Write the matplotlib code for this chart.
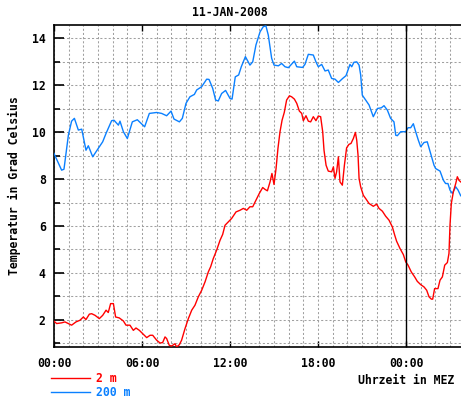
import matplotlib
matplotlib.use("Agg")
import matplotlib.pyplot as plt
from matplotlib.ticker import MultipleLocator, FixedLocator, FixedFormatter

# ---------------- data ----------------
hours_200m = [0.0, 0.52, 0.68, 0.98, 1.2, 1.39, 1.66, 1.89, 2.18, 2.34, 2.64, 3.02, 3.32, 3.55,
              3.93, 4.09, 4.39, 4.5, 4.73, 5.0, 5.34, 5.68, 6.18, 6.5, 7.0, 7.34, 7.68, 7.98,
              8.18, 8.55, 8.75, 9.0, 9.27, 9.57, 9.73, 10.07, 10.41, 10.57, 10.82, 11.02, 11.2,
              11.43, 11.7, 12.0, 12.14, 12.36, 12.59, 12.77, 13.05, 13.36, 13.55, 13.77, 14.05,
              14.27, 14.45, 14.61, 14.84, 15.0, 15.3, 15.52, 15.75, 15.98, 16.39, 16.55, 16.95,
              17.11, 17.34, 17.68, 17.86, 18.02, 18.25, 18.48, 18.7, 18.93, 19.16, 19.39, 19.68,
              19.91, 20.18, 20.3, 20.45, 20.64, 20.8, 20.91, 21.02, 21.25, 21.48, 21.77, 22.05,
              22.32, 22.5, 22.73, 22.95, 23.18, 23.3, 23.41, 23.64, 23.98, 24.14, 24.32, 24.5,
              24.66, 24.84, 25.0, 25.23, 25.45, 25.68, 25.91, 26.02, 26.32, 26.55, 26.7, 26.86,
              27.0, 27.16, 27.39, 27.55, 27.73]
temp_200m = [9.09, 8.38, 8.42, 9.87, 10.47, 10.59, 10.09, 10.13, 9.23, 9.42, 8.95, 9.31, 9.59, 9.95,
             10.49, 10.51, 10.30, 10.47, 10.02, 9.73, 10.44, 10.53, 10.23, 10.80, 10.84, 10.80,
             10.70, 10.90, 10.56, 10.44, 10.59, 11.23, 11.51, 11.61, 11.80, 11.94, 12.26, 12.25,
             11.87, 11.37, 11.33, 11.65, 11.78, 11.44, 11.41, 12.36, 12.44, 12.79, 13.22, 12.86,
             13.0, 13.72, 14.28, 14.50, 14.53, 14.14, 13.15, 12.86, 12.83, 12.93, 12.79, 12.75,
             13.03, 12.79, 12.76, 12.89, 13.32, 13.29, 13.00, 12.79, 12.89, 12.61, 12.65, 12.29,
             12.26, 12.12, 12.29, 12.41, 12.89, 12.79, 12.98, 13.0, 12.86, 12.44, 11.58, 11.37,
             11.16, 10.66, 11.01, 11.04, 11.13, 10.94, 10.59, 10.44, 9.87, 9.85, 10.02, 10.02,
             10.19, 10.19, 10.36, 10.02, 9.66, 9.38, 9.56, 9.59, 9.09, 8.59, 8.45, 8.34, 7.95,
             7.81, 7.81, 7.53, 7.39, 7.67, 7.53, 7.29]

hours_2m = [0.0, 0.18, 0.52, 0.75, 0.98, 1.2, 1.5, 1.77, 2.0, 2.18, 2.41, 2.57, 2.8, 3.09, 3.32,
            3.55, 3.7, 3.86, 4.05, 4.2, 4.45, 4.73, 4.91, 5.18, 5.41, 5.59, 5.82, 6.05, 6.32,
            6.55, 6.73, 7.0, 7.23, 7.41, 7.57, 7.68, 7.86, 8.02, 8.25, 8.36, 8.55, 8.7, 8.93,
            9.16, 9.39, 9.61, 9.84, 10.07, 10.3, 10.52, 10.68, 10.86, 11.09, 11.32, 11.5, 11.66,
            11.89, 12.11, 12.41, 12.68, 12.91, 13.14, 13.36, 13.55, 13.77, 14.0, 14.23, 14.39,
            14.55, 14.73, 14.86, 15.0, 15.14, 15.27, 15.41, 15.55, 15.7, 15.86, 16.05, 16.2,
            16.39, 16.55, 16.73, 16.89, 17.0, 17.18, 17.34, 17.5, 17.68, 17.86, 18.02, 18.18,
            18.32, 18.41, 18.55, 18.7, 18.93, 19.05, 19.16, 19.27, 19.39, 19.5, 19.66, 19.8,
            19.95, 20.11, 20.25, 20.41, 20.55, 20.64, 20.73, 20.8, 20.91, 21.09, 21.25, 21.48,
            21.77, 22.0, 22.16, 22.39, 22.61, 22.84, 23.07, 23.23, 23.36, 23.59, 23.82, 23.98,
            24.14, 24.36, 24.59, 24.77, 25.0, 25.23, 25.41, 25.57, 25.73, 25.82, 25.95, 26.18,
            26.32, 26.48, 26.64, 26.82, 26.93, 27.0, 27.09, 27.23, 27.39, 27.5, 27.61, 27.73]
temp_2m = [1.94, 1.84, 1.87, 1.91, 1.84, 1.77, 1.91, 1.98, 2.12, 2.01, 2.24, 2.26, 2.19, 2.05,
           2.19, 2.41, 2.31, 2.69, 2.69, 2.12, 2.08, 1.95, 1.77, 1.77, 1.55, 1.65, 1.55, 1.41,
           1.24, 1.34, 1.34, 1.13, 1.01, 1.03, 1.27, 1.20, 0.91, 0.88, 0.98, 0.84, 0.94, 1.13,
           1.62, 2.05, 2.41, 2.62, 2.98, 3.26, 3.62, 4.04, 4.26, 4.61, 4.97, 5.39, 5.64, 6.03,
           6.18, 6.32, 6.60, 6.67, 6.75, 6.67, 6.82, 6.82, 7.10, 7.39, 7.64, 7.56, 7.50, 7.88,
           8.24, 7.77, 8.45, 9.31, 10.02, 10.51, 10.84, 11.37, 11.55, 11.51, 11.41, 11.23,
           10.90, 10.80, 10.49, 10.70, 10.47, 10.44, 10.66, 10.49, 10.69, 10.66, 10.02, 9.23,
           8.59, 8.34, 8.31, 8.52, 8.03, 8.31, 8.95, 7.88, 7.74, 8.59, 9.33, 9.48, 9.52, 9.73,
           9.99, 9.66, 9.02, 8.03, 7.67, 7.31, 7.17, 6.96, 6.84, 6.93, 6.75, 6.63, 6.42, 6.25,
           5.96, 5.61, 5.35, 5.04, 4.78, 4.47, 4.33, 4.04, 3.83, 3.64, 3.50, 3.40, 3.26, 2.98,
           2.88, 2.88, 3.33, 3.33, 3.69, 3.83, 4.33, 4.44, 4.83, 6.03, 6.96, 7.46, 7.81, 8.10,
           7.95, 7.88]

series_labels = ["2 m", "200 m"]
x_tick_hours = [0, 6, 12, 18, 24]
x_tick_labels = ["00:00", "06:00", "12:00", "18:00", "00:00"]
y_ticks = [2, 4, 6, 8, 10, 12, 14]
title_text = "11-JAN-2008"
ylabel_text = "Temperatur in Grad Celsius"
xlabel_text = "Uhrzeit in MEZ"
midnight_hour = 24

# ---------------- style ----------------
W, H, DPI = 461, 399, 100
RED = "#ff0000"
BLUE = "#0a80ff"
GRID = "#a0a0a0"
FONT = dict(family="DejaVu Sans Mono", weight="bold", size=8.3)

fig = plt.figure(figsize=(W / DPI, H / DPI), dpi=DPI)
fig.patch.set_facecolor("white")
ax = fig.add_axes([54 / W, 1 - 347 / H, (461 - 54) / W, (347 - 25) / H])

ax.set_xlim(0, 27.75)
ax.set_ylim(0.84, 14.57)

# grid
ax.xaxis.set_minor_locator(MultipleLocator(1))
ax.yaxis.set_minor_locator(MultipleLocator(1))
ax.grid(True, which="both", color=GRID, linestyle=(0, (2.0, 2.0)), linewidth=0.75)
ax.set_axisbelow(True)

# data
ax.plot(hours_200m, temp_200m, color=BLUE, linewidth=1.0, label=series_labels[1], zorder=3)
ax.plot(hours_2m, temp_2m, color=RED, linewidth=1.0, label=series_labels[0], zorder=3)
ax.axvline(midnight_hour, color="black", linewidth=1.0, zorder=4)

# spines
for s in ["left", "top", "bottom"]:
    ax.spines[s].set_color("black")
    ax.spines[s].set_linewidth(1.2)
ax.spines["right"].set_visible(False)

# ticks
ax.xaxis.set_major_locator(FixedLocator(x_tick_hours))
ax.xaxis.set_major_formatter(FixedFormatter(x_tick_labels))
ax.set_yticks(y_ticks)
ax.tick_params(axis="x", which="major", direction="in", length=4, width=1, top=True,
               bottom=True, pad=7)
ax.tick_params(axis="x", which="minor", length=0)
ax.tick_params(axis="y", which="major", direction="in", length=7.5, width=1.2, left=True,
               right=False, pad=6)
ax.tick_params(axis="y", which="minor", direction="in", length=4.5, width=1.2, left=True,
               right=False)
for lab in ax.get_xticklabels() + ax.get_yticklabels():
    lab.set_fontfamily(FONT["family"])
    lab.set_fontweight(FONT["weight"])
    lab.set_fontsize(FONT["size"])

# texts
fig.text(230 / W, 1 - 13 / H, title_text, ha="center", va="center", **FONT)
fig.text(14 / W, 1 - 186 / H, ylabel_text, ha="center", va="center", rotation=90, **FONT)
fig.text(454 / W, 1 - 380 / H, xlabel_text, ha="right", va="center", **FONT)

# legend
handles, labels = ax.get_legend_handles_labels()
order = [labels.index(series_labels[0]), labels.index(series_labels[1])]
leg = fig.legend([handles[i] for i in order], [labels[i] for i in order],
                 loc="upper left", bbox_to_anchor=(51 / W, 1 - 372 / H),
                 frameon=False, borderpad=0, borderaxespad=0, handlelength=3.4,
                 handletextpad=0.5, labelspacing=0.1, labelcolor="linecolor",
                 prop=dict(family=FONT["family"], weight="bold", size=FONT["size"]))

fig.savefig("out.png", dpi=DPI)
